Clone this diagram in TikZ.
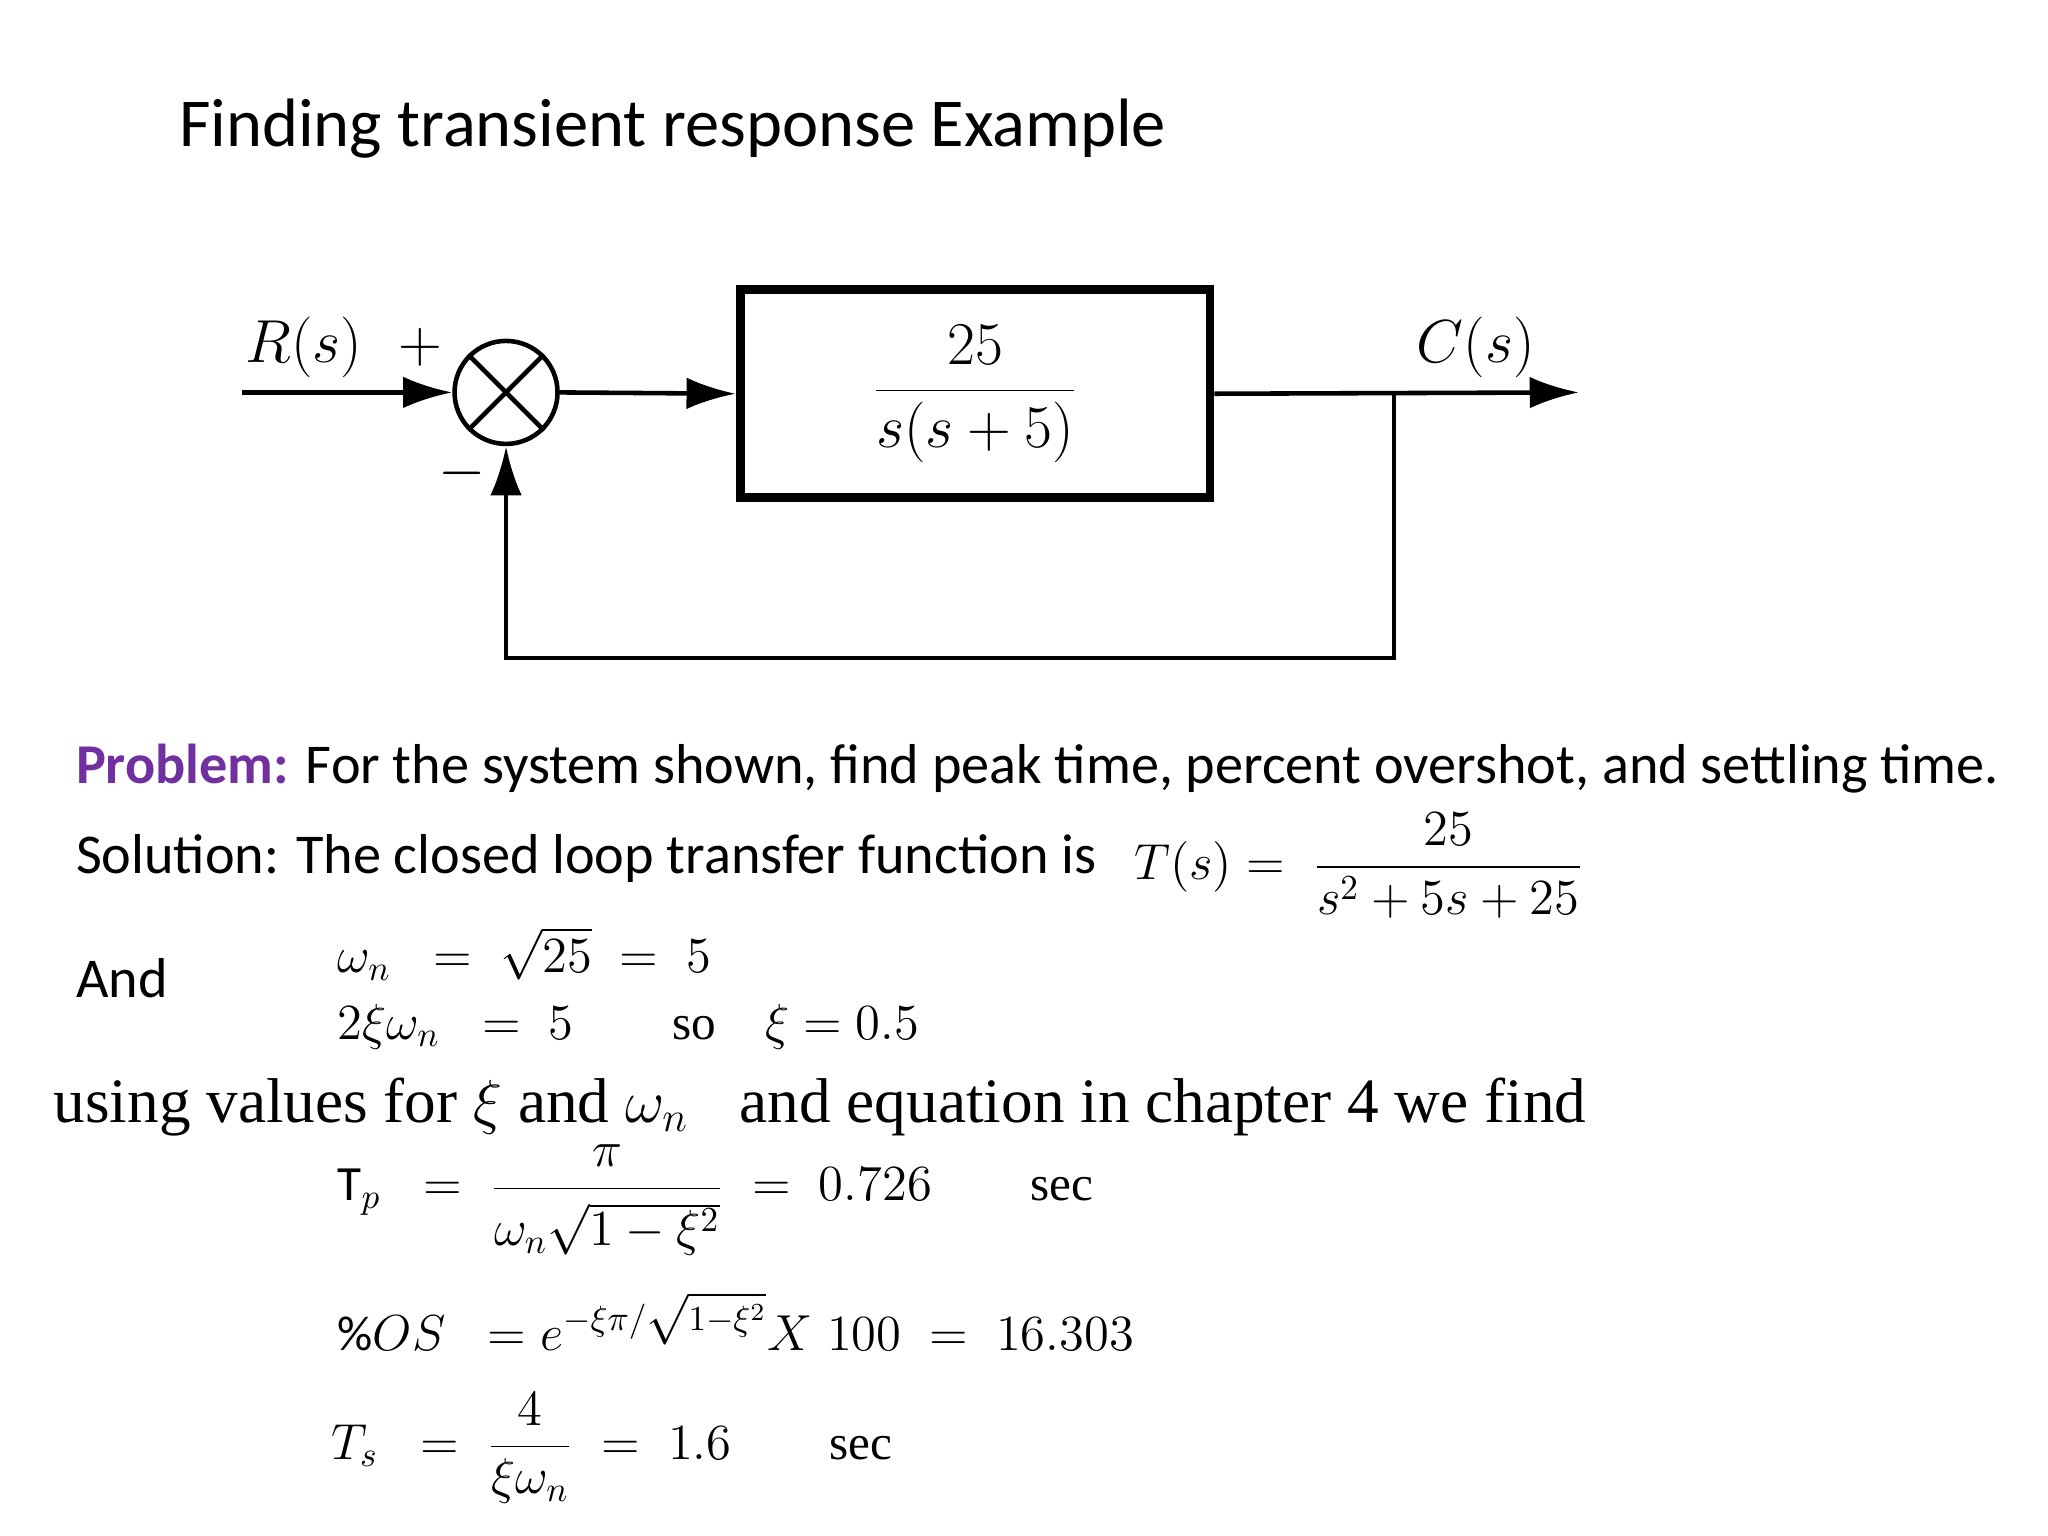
\documentclass[tikz,border=0pt]{standalone}
\usepackage{fontspec}
\setmainfont{Carlito}
\newfontfamily\tms{Liberation Serif}
\usetikzlibrary{arrows.meta}
\begin{document}
\begin{tikzpicture}[x=0.013213cm,y=-0.013213cm,
  sig/.style={line width=1.3pt,-{Latex[length=14pt,width=9pt]}},
  wire/.style={line width=1.3pt},
  lbl/.style={anchor=west,inner sep=0}]
\useasboundingbox (0,0) rectangle (1550,1162);
\node[lbl] (title) at (135,97) {\fontsize{19.5}{23}\selectfont Finding transient response Example};
% diagram
\node[draw,line width=2.5pt,minimum width=4.7cm,minimum height=2.08cm] (G) at (738,298)
  {\fontsize{18}{22}\selectfont$\displaystyle\frac{25}{s(s+5)}$};
\node[draw,circle,line width=1.3pt,minimum size=1.03cm,inner sep=0] (S) at (383,297) {};
\draw[line width=1.3pt] (S.45)--(S.225) (S.135)--(S.-45);
\coordinate (in) at (183,297);
\coordinate (out) at (1195,297);
\coordinate (br) at (1055,297);
\coordinate (fb1) at (1055,498);
\coordinate (fb2) at (383,498);
\draw[sig] (in) -- (S.west);
\draw[sig] (S.east) -- (G.west);
\draw[sig] (G.east) -- (out);
\draw[sig] (br) -- (fb1) -- (fb2) -- (S.south);
\node (R) at (230,263) {\fontsize{18}{22}\selectfont$R(s)$};
\node (plus) at (318,263) {\fontsize{17}{20}\selectfont$+$};
\node (minus) at (350,358) {\fontsize{17}{20}\selectfont$-$};
\node (C) at (1117,263) {\fontsize{18}{22}\selectfont$C(s)$};
% text
\node[lbl] (p) at (57,582) {\fontsize{16}{19}\selectfont\textcolor[HTML]{7030A0}{\textbf{Problem:}} For the system shown, find peak time, percent overshot, and settling time.};
\node[lbl] (sol) at (57,650) {\fontsize{16}{19}\selectfont Solution: The closed loop transfer function is};
\node[lbl] (T) at (858,655) {\fontsize{14}{17}\selectfont$\displaystyle T(s)=\;\frac{\;\;\;25\;\;\;}{s^2+5s+25}$};
\node[lbl] (and) at (57,740) {\fontsize{16}{19}\selectfont And};
\node[lbl] (wn) at (255,722) {\fontsize{14}{17}\selectfont$\omega_n\;\;=\;\sqrt{25}\;=\;5$};
\node[lbl] (xi) at (255,777) {\fontsize{14}{17}\selectfont$2\xi\omega_n\;\;=\;5$\qquad{\tms so}\quad$\xi=0.5$};
\node[lbl] (use) at (40,838) {\fontsize{18}{22}\selectfont\tms using values for $\xi$ and $\omega_n$\;\; and equation in chapter 4 we find};
\node[lbl] (tp) at (255,910) {\fontsize{14}{17}\selectfont$\mathrm{T}_p\;\;=\;\displaystyle\frac{\pi}{\omega_n\sqrt{1-\xi^2}\rule[-4pt]{0pt}{19pt}}\;=\;0.726$\qquad{\tms sec}};
\node[lbl] (os) at (255,1000) {\fontsize{14}{17}\selectfont$\%OS\;\;=e^{-\xi\pi/\sqrt{1-\xi^2}}X\;100\;=\;16.303$};
\node[lbl] (ts) at (250,1096) {\fontsize{14}{17}\selectfont$T_s\;\;=\;\displaystyle\frac{4}{\xi\omega_n}\;=\;1.6$\qquad{\tms sec}};
\end{tikzpicture}
\end{document}
